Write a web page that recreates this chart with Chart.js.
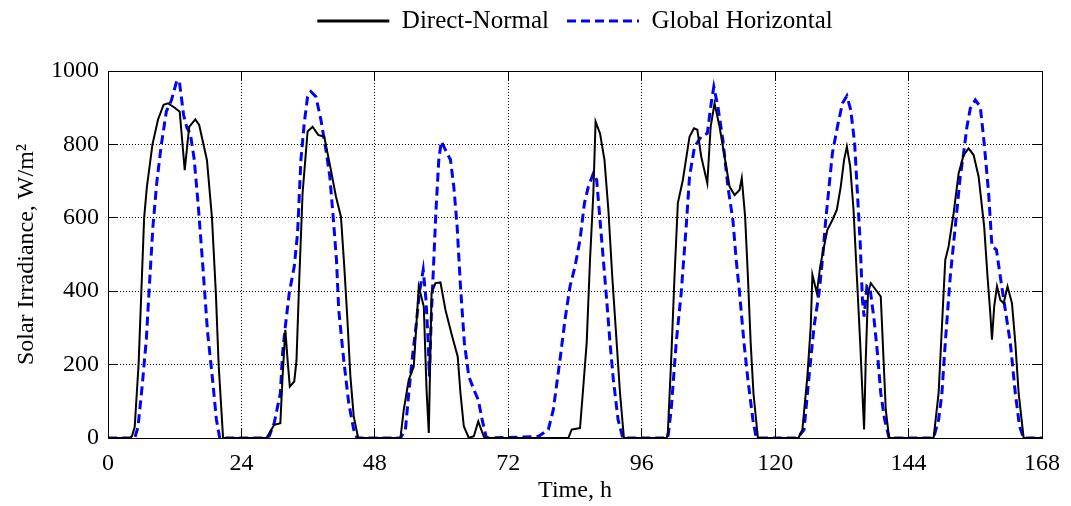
<!DOCTYPE html>
<html>
<head>
<meta charset="utf-8">
<script src="https://cdn.jsdelivr.net/npm/chart.js@4.4.1/dist/chart.umd.min.js"></script>
<style>
  html, body { margin: 0; padding: 0; background: #ffffff; }
  #wrap { width: 1071px; height: 506px; }
</style>
</head>
<body>
<div id="wrap"><canvas id="c" width="1071" height="506"></canvas></div>
<script>
// ---- Data (time in hours, irradiance in W/m²) ----
const seriesNames = ['Direct-Normal', 'Global Horizontal'];
const xTicks = [0, 24, 48, 72, 96, 120, 144, 168];
const yTicks = [0, 200, 400, 600, 800, 1000];

const dnHours = [0,4,4.3,4.8,5.5,6,6.5,7,8,9,10,10.8,12,12.9,13.8,14.6,15.7,16.4,17.8,18.7,19.4,19.9,20.7,
  28.5,29.9,31,31.4,31.9,32.3,32.7,33.5,33.9,34.4,35,35.9,36.8,37.8,38.9,40.1,41,41.9,42.5,43,43.6,44.2,45,
  52.6,53.2,54.1,55,55.9,56.8,57.3,57.7,58.2,58.9,59.8,60.7,61.9,62.9,63.4,64,64.9,65.8,66.6,67.2,67.7,
  82.8,83.4,84.9,85.4,86.1,86.7,87.3,87.7,88.5,89.3,90,90.7,91.3,92.1,92.8,
  100.5,100.7,101.3,101.9,102.5,103.4,104.6,105.4,106,106.7,107.8,108.4,109.1,110,110.9,111.8,112.7,113.6,114,114.6,115.1,115.6,116.1,116.9,
  124.2,124.9,125.8,126.4,126.7,127.5,128.1,128.8,129.4,130.3,131.1,131.8,132.4,132.9,133.5,134.1,134.7,135.3,135.7,136,136.3,136.7,137.2,138.1,139,139.5,139.9,140.5,
  148.5,149.4,150,150.6,151.2,152.1,153,153.9,154.8,155.7,156.6,157.6,158.2,158.7,159,159.4,159.9,160.5,161.1,161.8,162.6,163.2,163.8,164.7,168];
const dnValues = [0,0,5,30,200,400,600,685,800,868,908,912,900,889,730,848,868,853,757,600,395,200,0,
  0,36,40,168,295,213,140,154,210,431,667,835,848,826,821,730,658,603,467,340,168,59,0,
  0,77,159,195,413,358,130,14,395,422,424,349,277,222,122,32,0,5,45,20,0,
  0,23,27,122,259,485,667,862,830,758,622,440,304,122,0,
  0,15,213,440,640,703,821,844,840,767,694,848,912,848,767,685,662,676,708,603,440,259,122,0,
  0,23,168,304,445,395,467,522,567,594,622,685,758,794,740,622,440,259,122,23,213,395,422,404,385,213,77,0,
  0,122,304,485,522,612,721,771,789,771,712,576,440,340,268,358,413,376,367,413,367,259,122,0,0];

const ghHours = [0,4.8,5.4,6.2,6.9,7.5,8.1,8.8,9.6,10.5,11.4,12.4,12.85,13.6,14.2,14.8,15.5,16.2,17,17.9,18.8,19.5,20.1,
  28,29,29.9,31,31.4,31.9,32.6,33.5,34.1,34.7,35.3,35.9,36.5,37.4,38.3,39.2,39.9,40.5,41.1,41.5,42.4,43.3,44.2,44.8,
  52.6,53.5,54.1,54.7,55.4,56,56.7,57.2,57.6,57.8,58.2,58.6,59,59.5,59.95,60.7,61.6,62.2,62.8,63.4,64.1,64.9,65.8,66.6,67.3,68,68.4,
  77.4,79.2,80.1,81.3,82.2,83.1,84,84.9,85.7,86.4,87.3,87.9,88.5,89.1,89.7,90.3,90.9,91.75,92.6,
  100.7,101.3,102.2,103.1,104,104.6,105.5,106.7,107.8,108.5,108.97,109.7,110.6,111.5,112.4,113,113.6,114.4,115.1,116,116.6,
  124,125.2,126.1,127,127.9,128.5,129.1,129.7,130.3,131.2,132.1,132.9,133.6,134.3,134.8,135.3,135.7,136,136.5,137.1,137.8,138.4,139,139.7,140.5,
  148.5,149.4,150,150.6,151.5,152.4,153.3,153.9,154.5,155.1,156,156.9,157.6,158.4,159,159.8,160.5,161.4,162.3,163.2,163.96,164.7,168];
const ghValues = [0,0,30,150,270,430,580,700,800,890,920,975,970,880,845,830,760,640,480,290,160,50,0,
  0,5,41,122,231,304,395,467,558,758,858,930,944,930,867,785,712,603,485,349,213,95,23,0,
  0,23,122,213,304,395,458,376,259,168,349,485,622,758,808,785,758,685,576,413,259,168,132,104,50,4,0,
  4,23,77,213,322,413,467,540,640,685,721,703,594,485,376,259,159,50,0,
  0,77,259,395,576,712,794,821,830,912,957,903,812,685,594,485,395,259,159,50,0,
  0,23,168,304,395,485,594,685,776,848,912,932,894,803,667,531,376,331,413,404,322,231,122,50,0,
  0,50,122,259,440,576,712,776,848,898,921,903,803,667,522,513,440,349,259,122,32,0,0];

const toPoints = (xs, ys) => xs.map((h, i) => ({ x: h, y: ys[i] }));

// ---- Styling ----
const FONT = '"Liberation Serif", "Times New Roman", Times, serif';
Chart.defaults.font.family = FONT;
Chart.defaults.font.size = 24;
Chart.defaults.color = '#000';

// Extra space between the legend row and the plot
const legendGap = {
  id: 'legendGap',
  beforeLayout(chart) {
    const lg = chart.legend;
    if (lg && !lg.__gapPatched) {
      const fit = lg.fit.bind(lg);
      lg.fit = function () { fit(); this.height += 27.5; };
      lg.__gapPatched = true;
    }
  }
};

// Box frame and inward tick marks (MATLAB style)
const framePlugin = {
  id: 'frame',
  afterDatasetsDraw(chart) {
    const { ctx, chartArea: { left, right, top, bottom }, scales: { x, y } } = chart;
    const a = v => Math.round(v - 0.5) + 0.5;
    const L = 9;
    ctx.save();
    ctx.setLineDash([]);
    ctx.strokeStyle = '#000';
    ctx.lineWidth = 1;
    ctx.beginPath();
    x.ticks.forEach(t => {
      const px = a(x.getPixelForValue(t.value));
      ctx.moveTo(px, bottom); ctx.lineTo(px, bottom - L);
      ctx.moveTo(px, top); ctx.lineTo(px, top + L);
    });
    y.ticks.forEach(t => {
      const py = a(y.getPixelForValue(t.value));
      ctx.moveTo(left, py); ctx.lineTo(left + L, py);
      ctx.moveTo(right, py); ctx.lineTo(right - L, py);
    });
    ctx.stroke();
    ctx.strokeRect(a(left), a(top), Math.round(right - left), Math.round(bottom - top));
    ctx.restore();
  }
};

new Chart(document.getElementById('c'), {
  type: 'line',
  data: {
    datasets: [
      {
        label: seriesNames[0],
        data: toPoints(dnHours, dnValues),
        borderColor: '#000000',
        backgroundColor: '#000000',
        borderWidth: 2,
        pointRadius: 0,
        tension: 0,
        fill: false
      },
      {
        label: seriesNames[1],
        data: toPoints(ghHours, ghValues),
        borderColor: '#0000ff',
        backgroundColor: '#0000ff',
        borderWidth: 3,
        borderDash: [9, 5],
        pointRadius: 0,
        tension: 0,
        fill: false
      }
    ]
  },
  options: {
    responsive: false,
    animation: false,
    devicePixelRatio: 1,
    layout: { padding: { left: 0, right: 26, top: -9.5, bottom: 0 } },
    plugins: {
      legend: {
        display: true,
        position: 'top',
        fullSize: false,
        labels: {
          usePointStyle: true,
          pointStyle: 'line',
          pointStyleWidth: 72,
          padding: 18,
          font: { family: FONT, size: 25 },
          color: '#000',
          generateLabels: chart => Chart.defaults.plugins.legend.labels.generateLabels(chart).map((item, i) => {
            const ds = chart.data.datasets[i];
            item.lineDash = ds.borderDash || [];
            item.lineWidth = 3;
            item.strokeStyle = ds.borderColor;
            item.fillStyle = ds.borderColor;
            return item;
          })
        }
      },
      tooltip: { enabled: false }
    },
    scales: {
      x: {
        type: 'linear',
        min: 0,
        max: 168,
        afterBuildTicks: s => { s.ticks = xTicks.map(v => ({ value: v })); },
        afterFit: s => { s.height = 68; },
        ticks: { padding: 11, color: '#000', font: { family: FONT, size: 24 }, maxRotation: 0, callback: v => String(v) },
        grid: { color: '#000', lineWidth: 1, drawTicks: false },
        border: { display: false, dash: [1, 2] },
        title: { display: true, text: 'Time, h', color: '#000', font: { family: FONT, size: 24 }, padding: { top: 0, bottom: 1 } }
      },
      y: {
        type: 'linear',
        min: 0,
        max: 1000,
        afterBuildTicks: s => { s.ticks = yTicks.map(v => ({ value: v })); },
        afterFit: s => { s.width = 108; },
        ticks: { padding: 9, color: '#000', font: { family: FONT, size: 24 }, callback: v => String(v) },
        grid: { color: '#000', lineWidth: 1, drawTicks: false },
        border: { display: false, dash: [1, 2] },
        title: { display: true, text: 'Solar Irradiance, W/m²', color: '#000', font: { family: FONT, size: 24 }, padding: { top: 12, bottom: 0 } }
      }
    }
  },
  plugins: [legendGap, framePlugin]
});
</script>
</body>
</html>
